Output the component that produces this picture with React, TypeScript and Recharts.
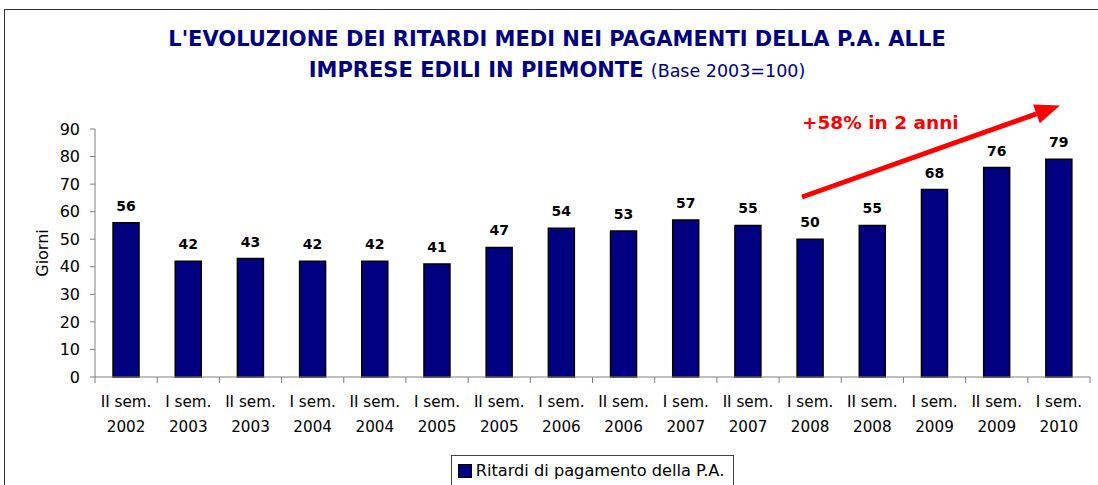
import React from 'react';
import { BarChart, Bar, XAxis, YAxis, LabelList, Legend } from 'recharts';

const semesters = ['II sem.', 'I sem.', 'II sem.', 'I sem.', 'II sem.', 'I sem.', 'II sem.', 'I sem.', 'II sem.', 'I sem.', 'II sem.', 'I sem.', 'II sem.', 'I sem.', 'II sem.', 'I sem.'];
const years = ['2002', '2003', '2003', '2004', '2004', '2005', '2005', '2006', '2006', '2007', '2007', '2008', '2008', '2009', '2009', '2010'];
const ritardi = [56, 42, 43, 42, 42, 41, 47, 54, 53, 57, 55, 50, 55, 68, 76, 79];
const yTicks = [0, 10, 20, 30, 40, 50, 60, 70, 80, 90];

const data = semesters.map((s, i) => ({ period: `${s} ${years[i]}`, value: ritardi[i] }));

const FONT = '"DejaVu Sans", Verdana, sans-serif';
const NAVY = '#000080';
const W = 1098;
const H = 485;
const PLOT_LEFT = 95;
const PLOT_RIGHT = 1090;
const halfBand = (PLOT_RIGHT - PLOT_LEFT) / semesters.length / 2;

const PeriodTick = (props: any) => {
    const { x, y, index } = props;
    const last = index === semesters.length - 1;
    return (
        <g>
            <line x1={x - halfBand} x2={x - halfBand} y1={y} y2={y + 6} stroke="#808080" />
            {last && <line x1={x + halfBand} x2={x + halfBand} y1={y} y2={y + 6} stroke="#808080" />}
            <text x={x} y={y} textAnchor="middle" fontSize={15.2} fill="#000" fontFamily={FONT}>
                <tspan x={x} dy={30}>{semesters[index]}</tspan>
                <tspan x={x} dy={24.5}>{years[index]}</tspan>
            </text>
        </g>
    );
};

const LegendBox = () => (
    <div style={{ textAlign: 'center', height: 30 }}>
        <div style={{
            display: 'inline-flex', alignItems: 'center', border: '1px solid #444',
            padding: '5px 9px 10px 6px', fontSize: 16.2, fontFamily: FONT, color: '#000'
        }}>
            <span style={{ display: 'inline-block', width: 12, height: 12, background: NAVY, border: '1px solid #000', marginRight: 4 }} />
            Ritardi di pagamento della P.A.
        </div>
    </div>
);

// arrow geometry for the "+58%" annotation
const tail = { x: 802, y: 197 };
const tip = { x: 1060, y: 105.5 };
const len = Math.hypot(tip.x - tail.x, tip.y - tail.y);
const ux = (tip.x - tail.x) / len;
const uy = (tip.y - tail.y) / len;
const headLen = 25;
const headHalf = 10;
const base = { x: tip.x - ux * headLen, y: tip.y - uy * headLen };
const headPts = `${tip.x},${tip.y} ${base.x - uy * headHalf},${base.y + ux * headHalf} ${base.x + uy * headHalf},${base.y - ux * headHalf}`;

export default function App() {
    return (
        <div style={{ position: 'absolute', left: 0, top: 0, width: W, height: H, overflow: 'hidden', background: '#fff', fontFamily: FONT }}>
            <div style={{ position: 'absolute', left: 4, top: 9, width: W, height: H, borderLeft: '1.5px solid #333', borderTop: '1.5px solid #333' }} />
            <div style={{ position: 'absolute', left: 8, top: 24, width: W, textAlign: 'center', color: NAVY, fontWeight: 'bold', fontSize: 21, lineHeight: '31px' }}>
                <div>L'EVOLUZIONE DEI RITARDI MEDI NEI PAGAMENTI DELLA P.A. ALLE</div>
                <div>IMPRESE EDILI IN PIEMONTE <span style={{ fontWeight: 'normal', fontSize: 17.5 }}>(Base 2003=100)</span></div>
            </div>
            <BarChart
                width={W}
                height={H}
                data={data}
                margin={{ top: 129, right: W - PLOT_RIGHT, bottom: 0, left: 0 }}
                barCategoryGap="29%"
                style={{ position: 'absolute', left: 0, top: 0, fontFamily: FONT }}
            >
                <XAxis
                    dataKey="period"
                    interval={0}
                    tickLine={false}
                    tickSize={0}
                    tickMargin={0}
                    height={78}
                    axisLine={{ stroke: '#808080' }}
                    tick={<PeriodTick />}
                />
                <YAxis
                    width={PLOT_LEFT}
                    domain={[0, 90]}
                    ticks={yTicks}
                    interval={0}
                    tickSize={5}
                    tickMargin={10}
                    axisLine={{ stroke: '#808080' }}
                    tickLine={{ stroke: '#808080' }}
                    tick={{ fill: '#000', fontSize: 16 }}
                    label={{ value: 'Giorni', angle: -90, position: 'insideLeft', offset: 42, style: { textAnchor: 'middle', fill: '#000', fontSize: 16 } }}
                />
                <Legend verticalAlign="bottom" content={<LegendBox />} wrapperStyle={{ left: PLOT_LEFT, width: PLOT_RIGHT - PLOT_LEFT }} />
                <Bar dataKey="value" name="Ritardi di pagamento della P.A." fill={NAVY} stroke="#000" strokeWidth={1.5} isAnimationActive={false}>
                    <LabelList dataKey="value" position="top" offset={12} fill="#000" fontSize={14} fontWeight="bold" />
                </Bar>
            </BarChart>
            <svg width={W} height={H} style={{ position: 'absolute', left: 0, top: 0, pointerEvents: 'none' }}>
                <line x1={tail.x} y1={tail.y} x2={base.x} y2={base.y} stroke="#ff0000" strokeWidth={5} />
                <polygon points={headPts} fill="#ff0000" />
                <text x={802} y={129} fill="#ff0000" fontSize={18.5} fontWeight="bold" fontFamily={FONT}>+58% in 2 anni</text>
            </svg>
        </div>
    );
}
